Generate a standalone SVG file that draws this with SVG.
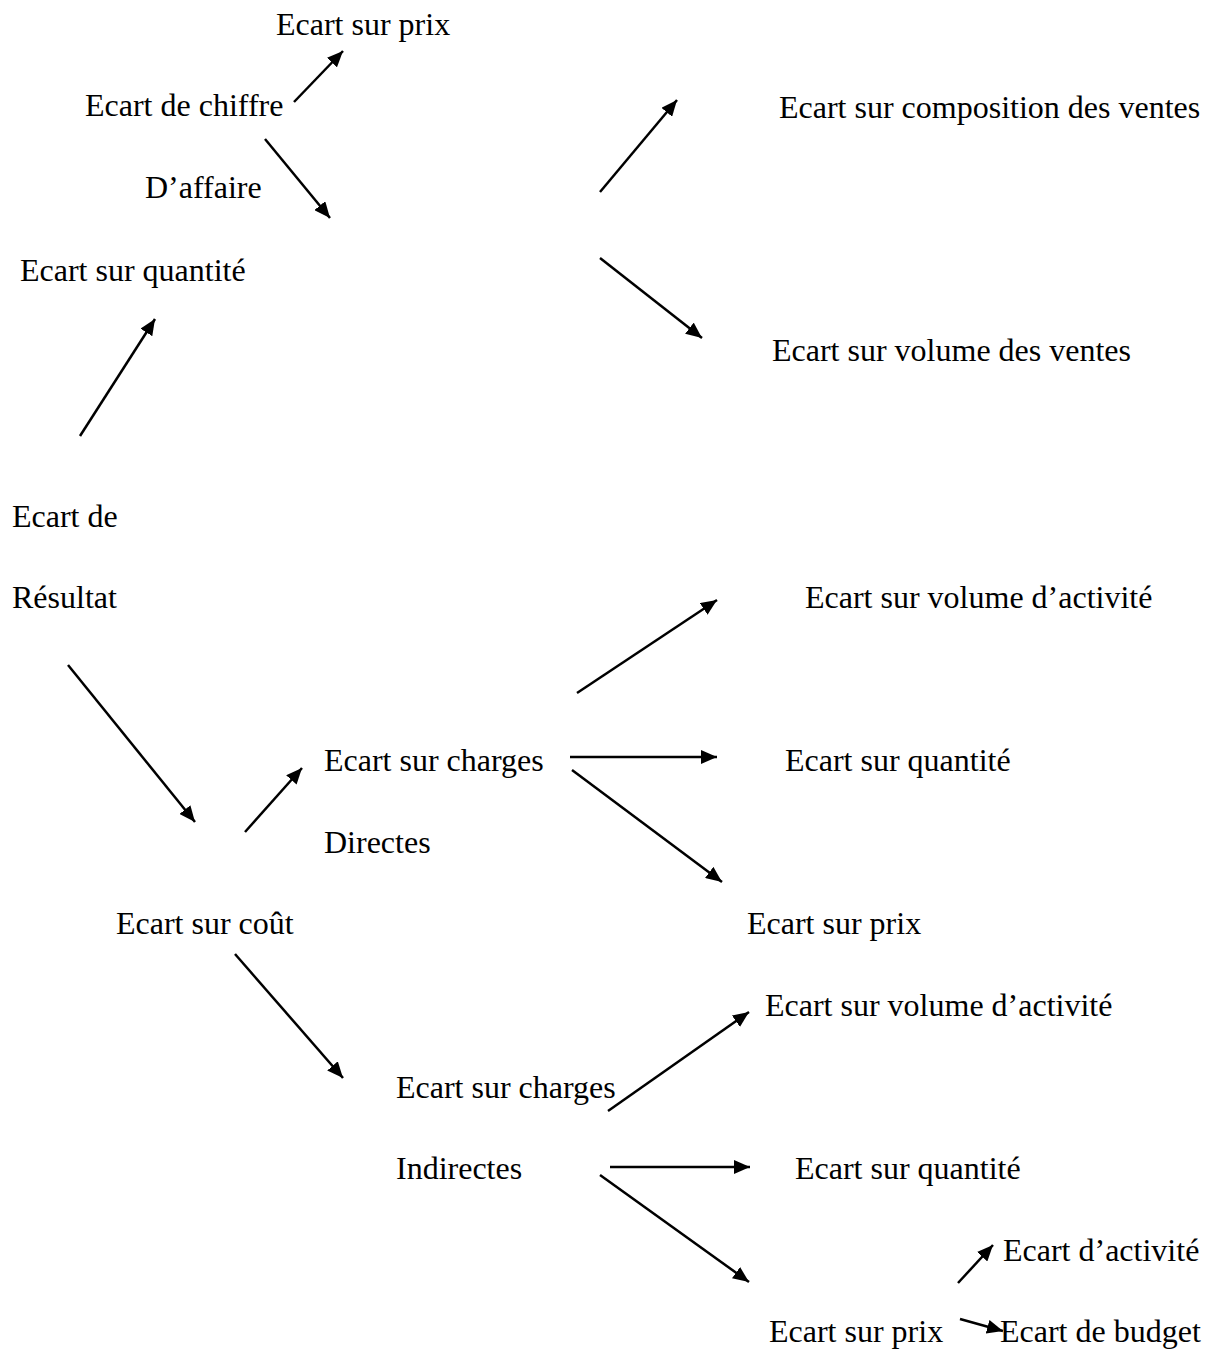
<svg xmlns="http://www.w3.org/2000/svg" width="1213" height="1351" viewBox="0 0 1213 1351">
<style>
text{font-family:"Liberation Serif","Times New Roman",serif;font-size:32px;fill:#000}
.c line{stroke:#000;stroke-width:2.5;marker-end:url(#ah)}
</style>
<defs>
<marker id="ah" markerUnits="userSpaceOnUse" markerWidth="17" markerHeight="14" refX="16" refY="7" orient="auto">
<path d="M0,0 L16,7 L0,14 z" fill="#000"/>
</marker>
</defs>
<rect width="1213" height="1351" fill="#fff"/>
<g id="n1"><text x="276" y="35">Ecart sur prix</text></g>
<g id="n2"><text x="85" y="116">Ecart de chiffre</text><text x="145" y="198">D’affaire</text></g>
<g id="n4"><text x="20" y="281">Ecart sur quantité</text></g>
<g id="n5"><text x="779" y="118">Ecart sur composition des ventes</text></g>
<g id="n6"><text x="772" y="361">Ecart sur volume des ventes</text></g>
<g id="n7"><text x="12" y="527">Ecart de</text><text x="12" y="608">Résultat</text></g>
<g id="n9"><text x="805" y="608">Ecart sur volume d’activité</text></g>
<g id="n10"><text x="324" y="771">Ecart sur charges</text><text x="324" y="853">Directes</text></g>
<g id="n11"><text x="785" y="771">Ecart sur quantité</text></g>
<g id="n13"><text x="116" y="934">Ecart sur coût</text></g>
<g id="n14"><text x="747" y="934">Ecart sur prix</text></g>
<g id="n15"><text x="765" y="1016">Ecart sur volume d’activité</text></g>
<g id="n16"><text x="396" y="1098">Ecart sur charges</text><text x="396" y="1179">Indirectes</text></g>
<g id="n18"><text x="795" y="1179">Ecart sur quantité</text></g>
<g id="n19"><text x="1003" y="1261">Ecart d’activité</text></g>
<g id="n20"><text x="769" y="1342">Ecart sur prix</text></g>
<g id="n21"><text x="1000" y="1342">Ecart de budget</text></g>
<g id="connectors" class="c">
<line x1="294" y1="102" x2="343" y2="51"/>
<line x1="265" y1="139" x2="330" y2="218"/>
<line x1="600" y1="192" x2="677" y2="100"/>
<line x1="600" y1="258" x2="702" y2="338"/>
<line x1="80" y1="436" x2="155" y2="319"/>
<line x1="68" y1="665" x2="195" y2="822"/>
<line x1="245" y1="832" x2="302" y2="768"/>
<line x1="577" y1="693" x2="717" y2="600"/>
<line x1="570" y1="757" x2="717" y2="757"/>
<line x1="572" y1="770" x2="722" y2="882"/>
<line x1="235" y1="954" x2="343" y2="1078"/>
<line x1="608" y1="1111" x2="749" y2="1012"/>
<line x1="610" y1="1167" x2="750" y2="1167"/>
<line x1="600" y1="1175" x2="749" y2="1282"/>
<line x1="958" y1="1283" x2="993" y2="1245"/>
<line x1="960" y1="1319" x2="1003" y2="1331"/>
</g>
</svg>
